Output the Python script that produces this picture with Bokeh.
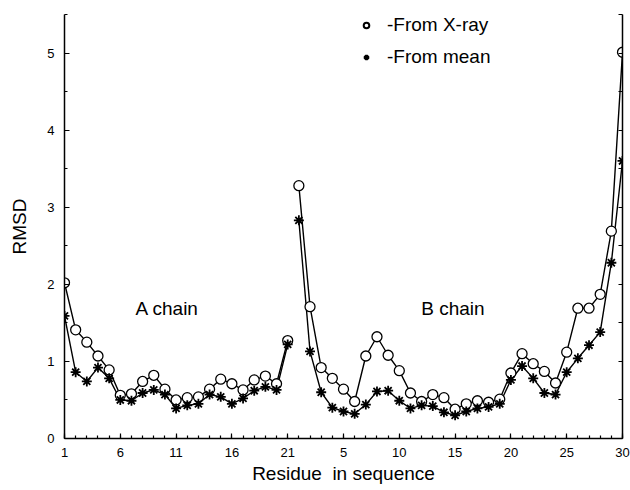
from bokeh.plotting import figure
from bokeh.models import (Range1d, FixedTicker, LinearAxis, Label, Legend, LegendItem)
from bokeh.embed import file_html
from bokeh.resources import INLINE

# ---- data ----
a_res = list(range(1, 22))
b_res = list(range(1, 31))

a_xray = [2.02, 1.41, 1.25, 1.07, 0.89, 0.56, 0.58, 0.74, 0.82, 0.64, 0.50,
          0.53, 0.54, 0.64, 0.77, 0.71, 0.63, 0.76, 0.81, 0.71, 1.27]
a_mean = [1.59, 0.86, 0.74, 0.92, 0.78, 0.50, 0.49, 0.59, 0.63, 0.57, 0.39,
          0.43, 0.45, 0.57, 0.54, 0.45, 0.52, 0.62, 0.67, 0.63, 1.22]
b_xray = [3.28, 1.71, 0.92, 0.78, 0.64, 0.48, 1.07, 1.32, 1.08, 0.88, 0.59,
          0.48, 0.57, 0.53, 0.38, 0.45, 0.49, 0.47, 0.51, 0.85, 1.10, 0.97,
          0.87, 0.72, 1.12, 1.69, 1.69, 1.87, 2.69, 5.01]
b_mean = [2.83, 1.13, 0.60, 0.40, 0.35, 0.32, 0.44, 0.61, 0.62, 0.49, 0.39,
          0.43, 0.42, 0.34, 0.30, 0.35, 0.39, 0.41, 0.45, 0.76, 0.94, 0.78,
          0.59, 0.57, 0.86, 1.04, 1.21, 1.38, 2.28, 3.60]

tick_labels = ["1", "6", "11", "16", "21", "5", "10", "15", "20", "25", "30"]
y_ticks = [0, 1, 2, 3, 4, 5]

# sequence positions: A chain first, then B chain
a_x = [r - 1 for r in a_res]
b_x = [len(a_res) + r - 1 for r in b_res]
n_total = len(a_res) + len(b_res)

FONT = "Liberation Sans"
half_ticks = [i * 0.5 for i in range(0, 12)]

p = figure(width=630, height=490, output_backend="svg", toolbar_location=None,
           x_range=Range1d(0, n_total - 1), y_range=Range1d(0, 5.5),
           min_border_left=64, min_border_right=8, min_border_top=14,
           min_border_bottom=52)
p.outline_line_color = None
p.xgrid.visible = False
p.ygrid.visible = False
p.background_fill_color = "white"
p.border_fill_color = "white"

major_x = list(range(0, n_total, 5))
p.xaxis.ticker = FixedTicker(ticks=major_x, minor_ticks=list(range(0, n_total)))
p.xaxis.major_label_overrides = {t: l for t, l in zip(major_x, tick_labels)}
p.yaxis.ticker = FixedTicker(ticks=y_ticks, minor_ticks=half_ticks)

for ax in (p.xaxis[0], p.yaxis[0]):
    ax.axis_line_width = 1.5
    ax.axis_line_color = "black"
    ax.major_tick_in = 5
    ax.major_tick_out = 0
    ax.minor_tick_in = 3
    ax.minor_tick_out = 0
    ax.major_tick_line_color = "black"
    ax.minor_tick_line_color = "black"
    ax.major_tick_line_width = 1.2
    ax.minor_tick_line_width = 1.2
    ax.major_label_text_font = FONT
    ax.major_label_text_font_size = "13px"
    ax.major_label_text_color = "black"
    ax.axis_label_text_font = FONT
    ax.axis_label_text_font_size = "19px"
    ax.axis_label_text_font_style = "normal"
    ax.axis_label_text_color = "black"

p.xaxis.axis_label = "Residue\u00a0 in sequence"
p.yaxis.axis_label = "RMSD"
p.xaxis.major_label_standoff = 9
p.xaxis.axis_label_standoff = 3
p.yaxis.major_label_standoff = 10
p.yaxis.axis_label_standoff = 14

# right axis: ticks only, no labels
right = LinearAxis(ticker=FixedTicker(ticks=[], minor_ticks=half_ticks),
                   major_label_standoff=0,
                   axis_line_width=1.5, major_tick_in=0, major_tick_out=0,
                   minor_tick_in=4, minor_tick_out=0,
                   minor_tick_line_width=1.2)
p.add_layout(right, "right")

# lines
for xs, ys in ((a_x, a_xray), (a_x, a_mean), (b_x, b_xray), (b_x, b_mean)):
    p.line(xs, ys, line_color="black", line_width=1.4)

# markers
p.scatter(a_x + b_x, a_xray + b_xray, marker="circle", size=10,
          line_color="black", line_width=1.3, fill_color="white")
p.scatter(a_x + b_x, a_mean + b_mean, marker="asterisk", size=10,
          line_color="black", line_width=1.8)

# legend via dummy renderers (smaller glyphs)
nan = float("nan")
leg_c = p.scatter(x=[nan], y=[nan], marker="circle", size=7,
                  line_color="black", line_width=2, fill_color="white")
leg_s = p.scatter(x=[nan], y=[nan], marker="asterisk", size=8,
                  line_color="black", line_width=2.5)
legend = Legend(items=[LegendItem(label="-From X-ray", renderers=[leg_c]),
                       LegendItem(label="-From mean", renderers=[leg_s])],
                location=(295, 370), border_line_color=None,
                background_fill_alpha=0, padding=0, margin=0, spacing=10,
                glyph_width=14, glyph_height=20, label_height=20,
                label_standoff=14, label_text_font=FONT,
                label_text_font_size="19px", label_text_color="black")
p.add_layout(legend, "center")

# chain annotations
p.add_layout(Label(x=6.37, y=1.69, text="A chain", text_font=FONT,
                   text_font_size="19px", text_color="black",
                   text_baseline="alphabetic"))
p.add_layout(Label(x=31.97, y=1.69, text="B chain", text_font=FONT,
                   text_font_size="19px", text_color="black",
                   text_baseline="alphabetic"))

open("out.html", "w").write(file_html(p, INLINE))
